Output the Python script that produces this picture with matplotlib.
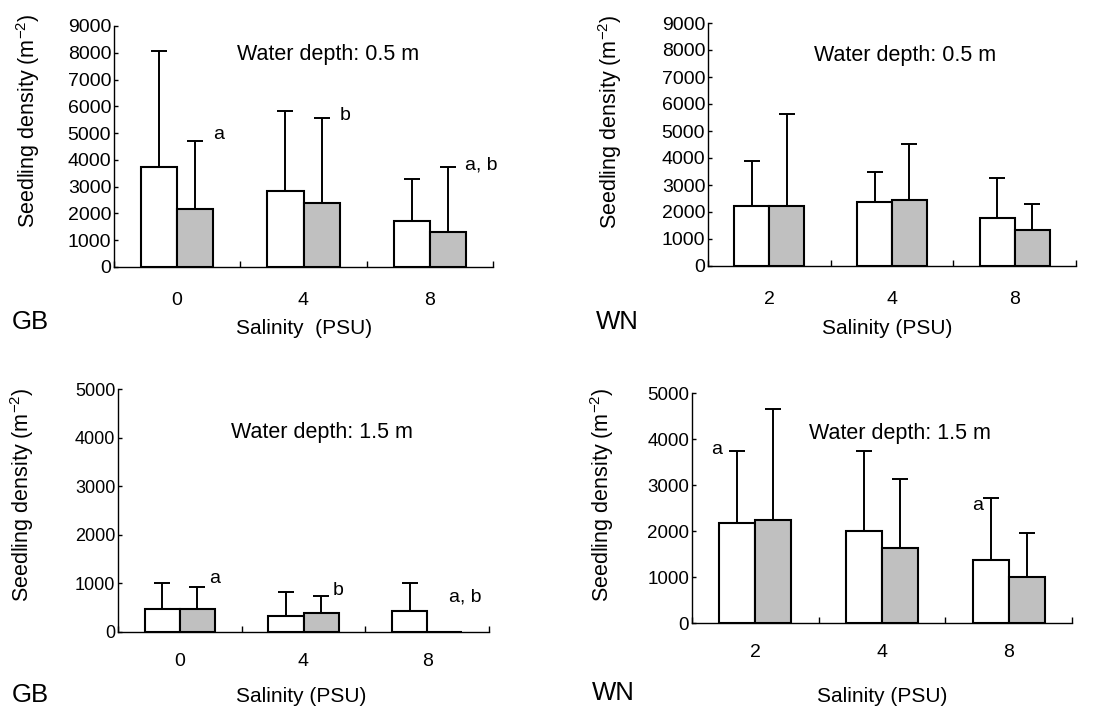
import numpy as np
import matplotlib
matplotlib.use("Agg")
from matplotlib import pyplot as plt

plt.rcParams["font.family"] = ["Liberation Sans", "DejaVu Sans"]
plt.rcParams["mathtext.fontset"] = "custom"
plt.rcParams["mathtext.rm"] = "Liberation Sans"
plt.rcParams["mathtext.it"] = "Liberation Sans"

# salinity levels per site
sal_gb = ["0", "4", "8"]
sal_wn = ["2", "4", "8"]

# GB, water depth 0.5 m
gb05_white = [3720, 2830, 1710]
gb05_white_err = [8080, 5810, 3300]
gb05_gray = [2180, 2390, 1310]
gb05_gray_err = [4700, 5550, 3730]

# WN, water depth 0.5 m
wn05_white = [2220, 2370, 1790]
wn05_white_err = [3890, 3490, 3250]
wn05_gray = [2220, 2430, 1330]
wn05_gray_err = [5620, 4510, 2310]

# GB, water depth 1.5 m
gb15_white = [480, 330, 430]
gb15_white_err = [1000, 830, 1000]
gb15_gray = [470, 390, 10]
gb15_gray_err = [920, 735, 10]

# WN, water depth 1.5 m
wn15_white = [2170, 2000, 1380]
wn15_white_err = [3740, 3740, 2710]
wn15_gray = [2240, 1630, 1010]
wn15_gray_err = [4660, 3120, 1960]

W, H = 1098, 710
fig = plt.figure(figsize=(W / 100, H / 100), dpi=100)


def px_axes(x0, x1, y0, y1):
    # axes rectangle from pixel coords (y0 = bottom, y1 = top)
    return fig.add_axes([x0 / W, 1 - y0 / H, (x1 - x0) / W, (y0 - y1) / H])


def panel(ax, labels, white, white_top, gray, gray_top, ymax, ystep, yfs, xpad):
    x = np.arange(len(labels))
    w = 0.285
    for xs, vals, tops, col in [(x - w / 2, white, white_top, "white"),
                                (x + w / 2, gray, gray_top, "#c0c0c0")]:
        ax.bar(xs, vals, width=w, color=col, edgecolor="black", linewidth=1.5, zorder=2)
        err = np.array(tops) - np.array(vals)
        ax.errorbar(xs, vals, yerr=[np.zeros_like(err), err], fmt="none",
                    ecolor="black", elinewidth=1.4, capsize=6, capthick=1.4, zorder=1)
    ax.set_xlim(-0.5, len(labels) - 0.5)
    ax.set_ylim(0, ymax)
    ax.set_yticks(np.arange(0, ymax + 1, ystep))
    ax.set_xticks(x, labels)
    ax.set_xticks(np.arange(-0.5, len(labels), 1.0), minor=True)
    ax.tick_params(axis="x", which="major", length=0, pad=xpad, labelsize=14)
    ax.tick_params(axis="x", which="minor", direction="in", length=4, width=1)
    ax.tick_params(axis="y", direction="in", length=3, width=1, pad=2, labelsize=yfs)
    for s in ["top", "right"]:
        ax.spines[s].set_visible(False)
    for s in ["left", "bottom"]:
        ax.spines[s].set_linewidth(1.0)
    ax.set_facecolor("none")


ax1 = px_axes(114, 493, 267, 26)
panel(ax1, sal_gb, gb05_white, gb05_white_err, gb05_gray, gb05_gray_err, 9000, 1000, 14, 18)
ax1.text(0.565, 0.88, "Water depth: 0.5 m", transform=ax1.transAxes, ha="center", va="center", fontsize=15.5)
ax1.text(0.325, 4930, "a", ha="center", va="center", fontsize=14)
ax1.text(1.333, 5676, "b", ha="center", va="center", fontsize=14)
ax1.text(2.405, 3809, "a, b", ha="center", va="center", fontsize=14)

ax2 = px_axes(708, 1076, 266, 23)
panel(ax2, sal_wn, wn05_white, wn05_white_err, wn05_gray, wn05_gray_err, 9000, 1000, 14, 18)
ax2.text(0.535, 0.868, "Water depth: 0.5 m", transform=ax2.transAxes, ha="center", va="center", fontsize=15.5)

ax3 = px_axes(118, 489, 632, 389)
panel(ax3, sal_gb, gb15_white, gb15_white_err, gb15_gray, gb15_gray_err, 5000, 1000, 13, 15)
ax3.text(0.55, 0.819, "Water depth: 1.5 m", transform=ax3.transAxes, ha="center", va="center", fontsize=15.5)
ax3.text(0.282, 1111, "a", ha="center", va="center", fontsize=14)
ax3.text(1.282, 864, "b", ha="center", va="center", fontsize=14)
ax3.text(2.31, 720, "a, b", ha="center", va="center", fontsize=14)

ax4 = px_axes(692, 1072, 623, 393)
panel(ax4, sal_wn, wn15_white, wn15_white_err, wn15_gray, wn15_gray_err, 5000, 1000, 13.5, 15)
ax4.text(0.547, 0.826, "Water depth: 1.5 m", transform=ax4.transAxes, ha="center", va="center", fontsize=15.5)
ax4.text(-0.303, 3761, "a", ha="center", va="center", fontsize=14)
ax4.text(1.757, 2565, "a", ha="center", va="center", fontsize=14)


def ftext(xp, yp, s, **kw):
    fig.text(xp / W, 1 - yp / H, s, **kw)


ylab = r"Seedling density (m$^{-2}$)"
for xp, yp in [(28, 121), (610, 122), (22, 495), (602, 495)]:
    ftext(xp, yp, ylab, rotation=90, ha="center", va="center", fontsize=15.5)

for xp, yp, s in [(304, 328, "Salinity  (PSU)"), (887, 328, "Salinity (PSU)"),
                  (301, 697, "Salinity (PSU)"), (882, 697, "Salinity (PSU)")]:
    ftext(xp, yp, s, ha="center", va="center", fontsize=15)

for xp, yp, s in [(12, 322, "GB"), (596, 322, "WN"), (12, 695, "GB"), (592, 693, "WN")]:
    ftext(xp, yp, s, ha="left", va="center", fontsize=18.5)

fig.savefig("out.png", dpi=100)
plt.close(fig)
